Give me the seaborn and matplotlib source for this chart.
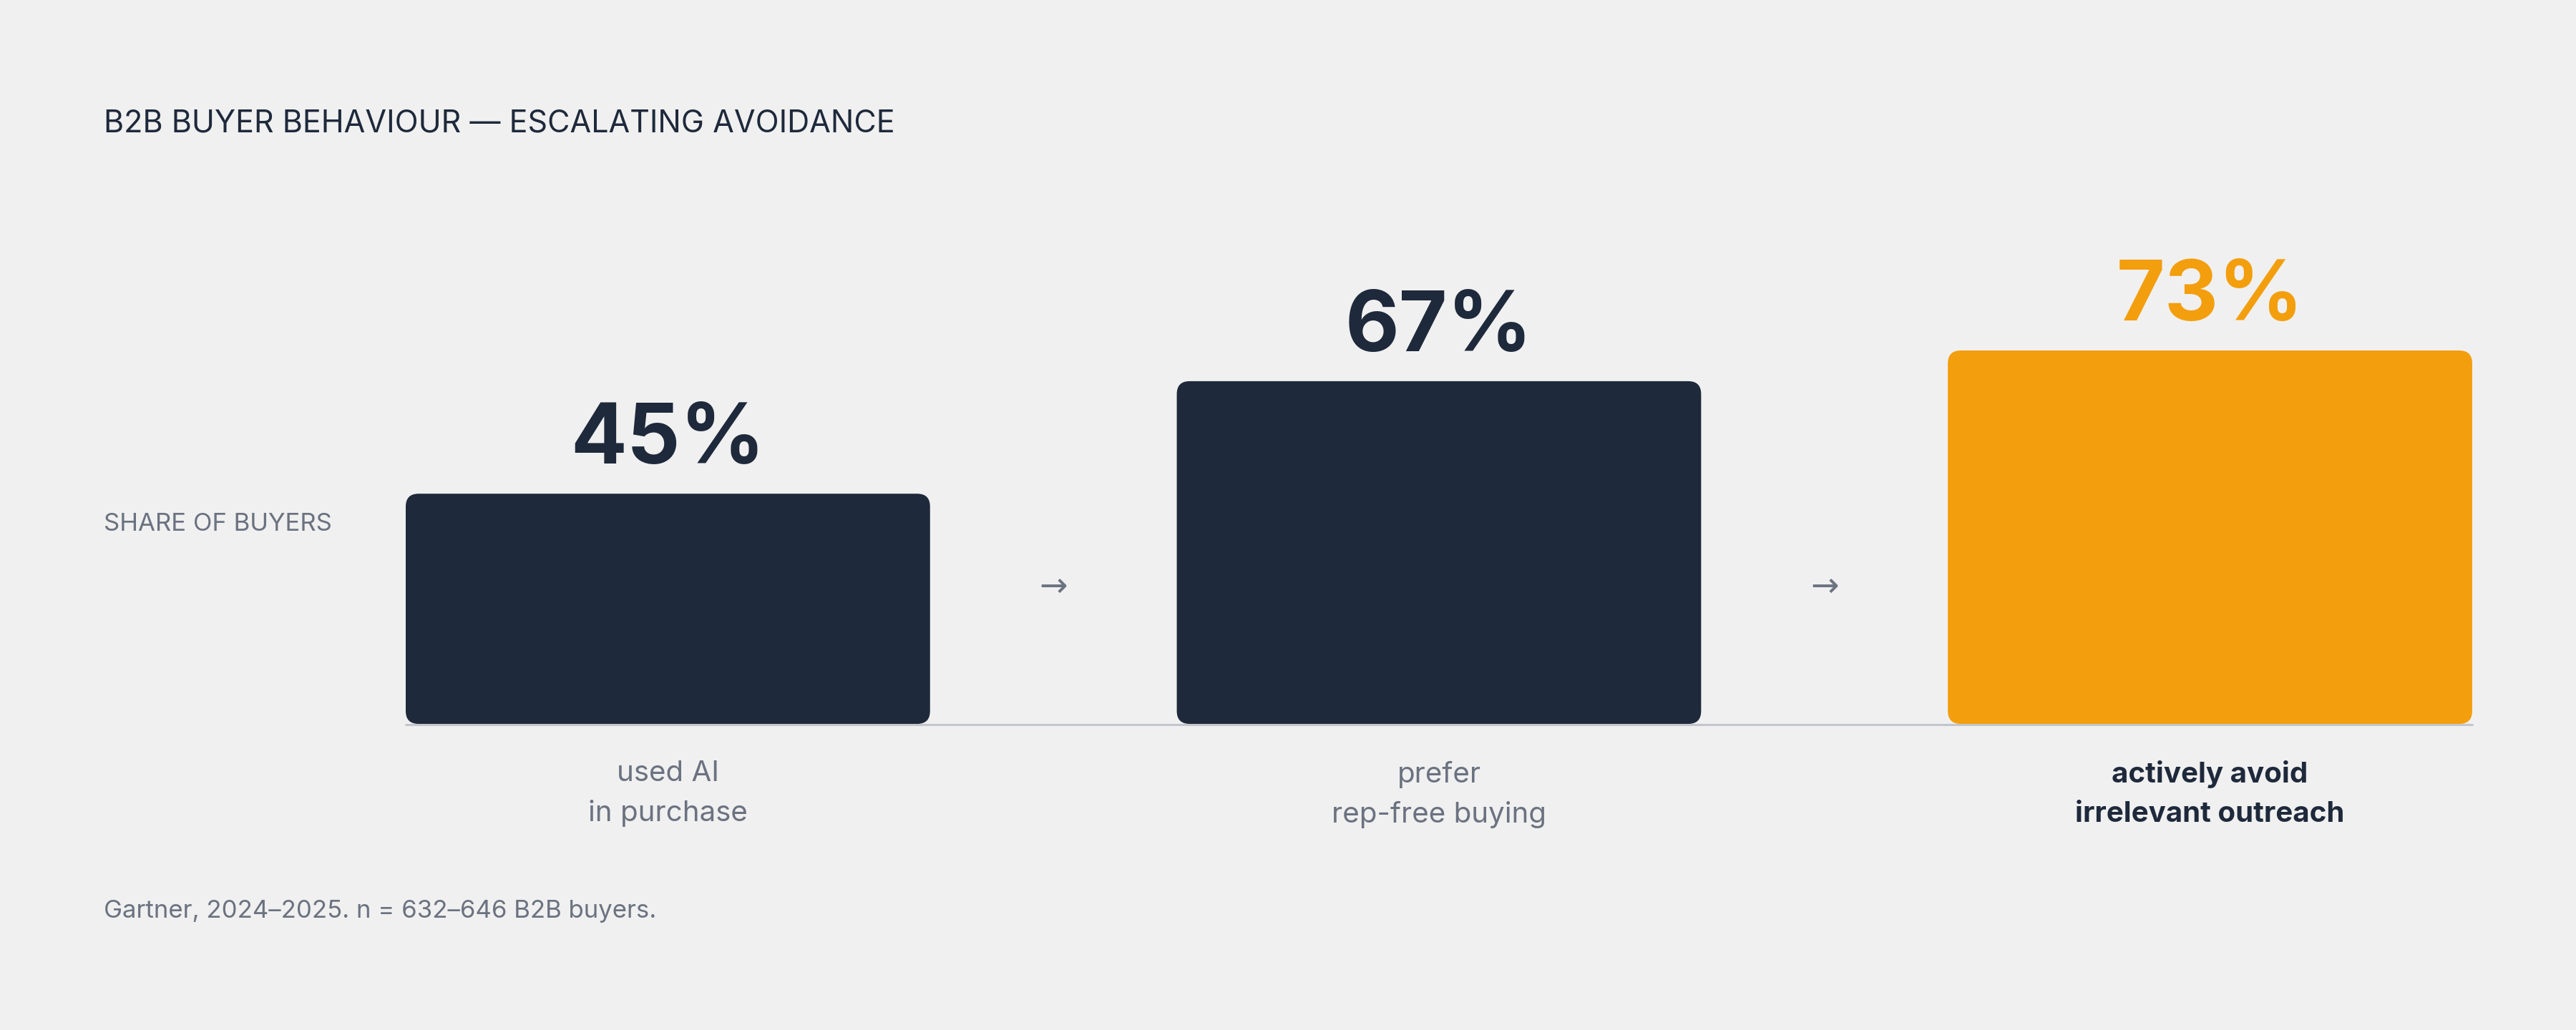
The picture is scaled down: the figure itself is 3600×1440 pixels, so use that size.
import matplotlib
matplotlib.use("Agg")
import matplotlib.pyplot as plt
from matplotlib.patches import FancyBboxPatch
import pandas as pd
import seaborn as sns

# data
categories = ["used AI\nin purchase", "prefer\nrep-free buying", "actively avoid\nirrelevant outreach"]
shares = [45, 67, 73]
value_labels = ["45%", "67%", "73%"]
highlight = [False, False, True]

title = "B2B BUYER BEHAVIOUR \u2014 ESCALATING AVOIDANCE"
axis_note = "SHARE OF BUYERS"
source = "Gartner, 2024\u20132025. n = 632\u2013646 B2B buyers."

BG = "#f0f0f0"
NAVY = "#1e293b"
ORANGE = "#f39e0c"
GREY = "#6b7280"
RULE = "#c3c6cc"

sns.set_theme(style="white")
plt.rcParams['font.family'] = ['Inter', 'DejaVu Sans']

fig = plt.figure(figsize=(36, 14.4), dpi=100, facecolor=BG)
ax = fig.add_axes([0.1575, 0.2972, 0.8022, 0.4966])
ax.set_facecolor(BG)

df = pd.DataFrame({"category": categories, "share": shares})
palette = {c: (ORANGE if h else NAVY) for c, h in zip(categories, highlight)}
sns.barplot(data=df, x="category", y="share", hue="category", palette=palette,
            width=0.68, saturation=1, legend=False, ax=ax)

ax.set_xlim(-0.34, 2.34)
ax.set_ylim(0, 100)
sns.despine(ax=ax, left=True, bottom=True)
ax.set_yticks([])
ax.set_xlabel("")
ax.set_ylabel("")
ax.axhline(-0.2, color=RULE, lw=2.2, zorder=0.5, clip_on=False)

# swap the plain bars for rounded ones
inv = ax.transData.inverted()
(x0, y0), (x1, y1) = inv.transform([(0, 0), (1, 1)])
aspect = (y1 - y0) / (x1 - x0)
radius = 18 * (x1 - x0)
for bar in list(ax.patches):
    bx, by = bar.get_x(), bar.get_y()
    bw, bh = bar.get_width(), bar.get_height()
    color = bar.get_facecolor()
    bar.remove()
    ax.add_patch(FancyBboxPatch((bx, by), bw, bh,
                                boxstyle=f"round,pad=0,rounding_size={radius}",
                                mutation_aspect=aspect, fc=color, ec="none", zorder=2))
    i = int(round(bx + bw / 2))
    ax.annotate(value_labels[i], xy=(bx + bw / 2, bh), xytext=(0, 30.5),
                textcoords="offset points", ha="center", va="baseline",
                fontsize=84, fontweight="bold",
                color=ORANGE if highlight[i] else NAVY)

# arrows between bars
for i in range(len(categories) - 1):
    ax.text(i + 0.5, 0.266, "\u2192", transform=ax.get_xaxis_transform(),
            ha="center", va="center", fontsize=34, color=GREY,
            family=["DejaVu Sans"])

# category labels
ax.tick_params(axis="x", length=0, pad=37, labelsize=29)
for lbl, h in zip(ax.get_xticklabels(), highlight):
    lbl.set_linespacing(1.6)
    lbl.set_color(NAVY if h else GREY)
    lbl.set_fontweight("bold" if h else "normal")

fig.text(0.0403, 0.872, title, fontsize=31, color=NAVY, va="baseline")
fig.text(0.0403, 0.4847, axis_note, fontsize=25, color=GREY, va="baseline")
fig.text(0.0403, 0.109, source, fontsize=25, color=GREY, va="baseline")

fig.savefig("out.png", dpi=100, facecolor=BG)
